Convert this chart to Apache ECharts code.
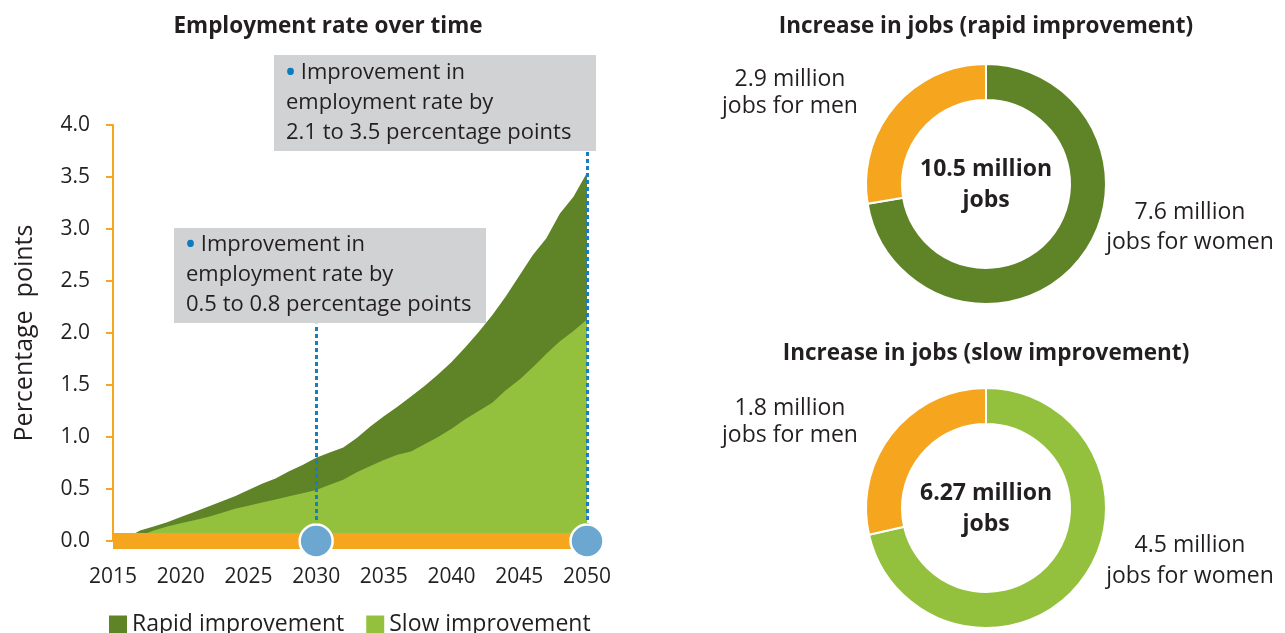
<!DOCTYPE html>
<html>
<head>
<meta charset="utf-8">
<script src="https://cdn.jsdelivr.net/npm/echarts@6/dist/echarts.min.js"></script>
<style>
  html, body { margin: 0; padding: 0; background: #fff; }
  #main { width: 1285px; height: 633px; }
</style>
</head>
<body>
<div id="main"></div>
<script>
  // ---- data ----
  var years = [2015, 2016, 2017, 2018, 2019, 2020, 2021, 2022, 2023, 2024, 2025, 2026,
               2027, 2028, 2029, 2030, 2031, 2032, 2033, 2034, 2035, 2036, 2037, 2038,
               2039, 2040, 2041, 2042, 2043, 2044, 2045, 2046, 2047, 2048, 2049, 2050];
  var rapid = [0, 0.03, 0.1, 0.14, 0.18, 0.23, 0.28, 0.33, 0.38, 0.43, 0.49, 0.55,
               0.6, 0.67, 0.73, 0.8, 0.85, 0.9, 0.99, 1.1, 1.2, 1.29, 1.39, 1.49,
               1.6, 1.72, 1.86, 2.01, 2.17, 2.35, 2.55, 2.75, 2.91, 3.15, 3.31, 3.54];
  var slow = [0, 0, 0.05, 0.1, 0.14, 0.17, 0.2, 0.23, 0.27, 0.31, 0.34, 0.37,
              0.4, 0.43, 0.46, 0.49, 0.54, 0.59, 0.66, 0.72, 0.78, 0.83, 0.86, 0.93,
              1.0, 1.08, 1.17, 1.25, 1.33, 1.45, 1.55, 1.67, 1.8, 1.92, 2.02, 2.13];
  var seriesNames = ['Rapid improvement', 'Slow improvement'];
  var markerYears = [2030, 2050];
  var slowRange = [0.5, 0.8];
  var rapidRange = [2.1, 3.5];

  var jobGroups = ['women', 'men'];
  var rapidJobs = [7.6, 2.9];
  var slowJobs = [4.5, 1.8];
  var jobTotals = [10.5, 6.27];
  var pieTitles = ['Increase in jobs (rapid improvement)', 'Increase in jobs (slow improvement)'];

  var DARK = '#5e8427', LIGHT = '#93c13e', ORANGE = '#f6a51f', BLUE = '#6ba7d0', INK = '#231f20';
  var FONT = '"Open Sans", sans-serif';

  function pairs(vals) {
    return years.map(function (y, i) { return [y, vals[i]]; });
  }

  function noteText(range) {
    return '{b|•} Improvement in\nemployment rate by\n' + range[0].toFixed(1) + ' to ' + range[1].toFixed(1) + ' percentage points';
  }

  function jobsText(v, who) {
    return v + ' million\njobs for ' + who;
  }

  function pie(vals, colr, cy) {
    return {
      type: 'pie',
      center: [986, cy],
      radius: [84, 120],
      startAngle: 90,
      clockwise: true,
      silent: true,
      label: { show: false },
      labelLine: { show: false },
      itemStyle: { borderColor: '#fff', borderWidth: 2 },
      data: [
        { name: jobGroups[0], value: vals[0], itemStyle: { color: colr } },
        { name: jobGroups[1], value: vals[1], itemStyle: { color: ORANGE } }
      ]
    };
  }

  function label(x, y, text, size, bold, lh) {
    return {
      type: 'text',
      x: x, y: y,
      style: {
        text: text,
        fill: INK,
        font: (bold ? 'bold ' : '') + size + 'px ' + FONT,
        align: 'center',
        verticalAlign: 'middle',
        lineHeight: lh || size * 1.3
      }
    };
  }

  function note(x, y, w, h, range, dy) {
    return {
      type: 'group',
      x: x, y: y,
      children: [
        { type: 'rect', shape: { x: 0, y: 0, width: w, height: h }, style: { fill: '#d1d2d4' } },
        {
          type: 'text', x: 12, y: dy,
          style: {
            text: noteText(range),
            fill: INK,
            font: '22px ' + FONT,
            lineHeight: 30,
            rich: { b: { fill: '#0c7bbf', font: 'bold 24px ' + FONT, lineHeight: 30 } }
          }
        }
      ]
    };
  }

  var chart = echarts.init(document.getElementById('main'));
  chart.setOption({
    animation: false,
    textStyle: { fontFamily: FONT },
    grid: { left: 113, right: 698, top: 125, bottom: 92, containLabel: false },
    legend: {
      data: seriesNames,
      left: 104, top: 608,
      icon: 'rect', itemWidth: 18, itemHeight: 18, itemGap: 22,
      textStyle: { fontSize: 23, color: INK }
    },
    xAxis: {
      type: 'value', min: 2015, max: 2050, interval: 5, z: 5,
      axisLine: { lineStyle: { color: ORANGE, width: 16, cap: 'butt' } },
      axisTick: { show: false },
      splitLine: { show: false },
      axisLabel: { fontSize: 21, color: INK, margin: 26, formatter: function (v) { return String(v); } }
    },
    yAxis: {
      type: 'value', min: 0, max: 4, interval: 0.5,
      name: 'Percentage  points', nameLocation: 'middle', nameRotate: 90, nameGap: 76,
      nameTextStyle: { fontSize: 25, color: INK },
      axisLine: { show: true, lineStyle: { color: ORANGE, width: 2 } },
      axisTick: { show: true, length: 7, lineStyle: { color: ORANGE, width: 2 } },
      splitLine: { show: false },
      axisLabel: { fontSize: 21, color: INK, margin: 23, formatter: function (v) { return v.toFixed(1); } }
    },
    series: [
      {
        name: seriesNames[0], type: 'line', data: pairs(rapid), z: 2,
        color: DARK, showSymbol: false, silent: true,
        lineStyle: { width: 0 }, areaStyle: { color: DARK, opacity: 1 }
      },
      {
        name: seriesNames[1], type: 'line', data: pairs(slow), z: 3,
        color: LIGHT, showSymbol: false, silent: true,
        lineStyle: { width: 0 }, areaStyle: { color: LIGHT, opacity: 1 },
        markLine: {
          silent: true, symbol: 'none', label: { show: false },
          lineStyle: { color: '#1a7dbf', type: [4, 3], width: 3 },
          data: [
            [{ coord: [markerYears[0], 0] }, { coord: [markerYears[0], 2.09] }],
            [{ coord: [markerYears[1], 0] }, { coord: [markerYears[1], 3.74] }]
          ]
        }
      },
      {
        type: 'scatter', z: 10, silent: true,
        data: markerYears.map(function (y) { return [y, 0]; }),
        symbolSize: 33,
        itemStyle: { color: BLUE, borderColor: '#fff', borderWidth: 2.5, opacity: 1 }
      },
      pie(rapidJobs, DARK, 184),
      pie(slowJobs, LIGHT, 508)
    ],
    graphic: [
      label(328, 27, 'Employment rate over time', 22.5, true),
      label(986, 27, pieTitles[0], 22.5, true),
      label(986, 354, pieTitles[1], 22.5, true),
      note(274, 55, 322, 96, rapidRange, 3),
      note(174, 228, 312, 95, slowRange, 2),
      label(986, 185, jobTotals[0] + ' million\njobs', 23, true, 31),
      label(986, 509, jobTotals[1] + ' million\njobs', 23, true, 31),
      label(790, 93, jobsText(rapidJobs[1], 'men'), 23, false, 27),
      label(1190, 227, jobsText(rapidJobs[0], 'women'), 23, false, 30),
      label(790, 422, jobsText(slowJobs[1], 'men'), 23, false, 27),
      label(1190, 561, jobsText(slowJobs[0], 'women'), 23, false, 31)
    ]
  });
</script>
</body>
</html>
